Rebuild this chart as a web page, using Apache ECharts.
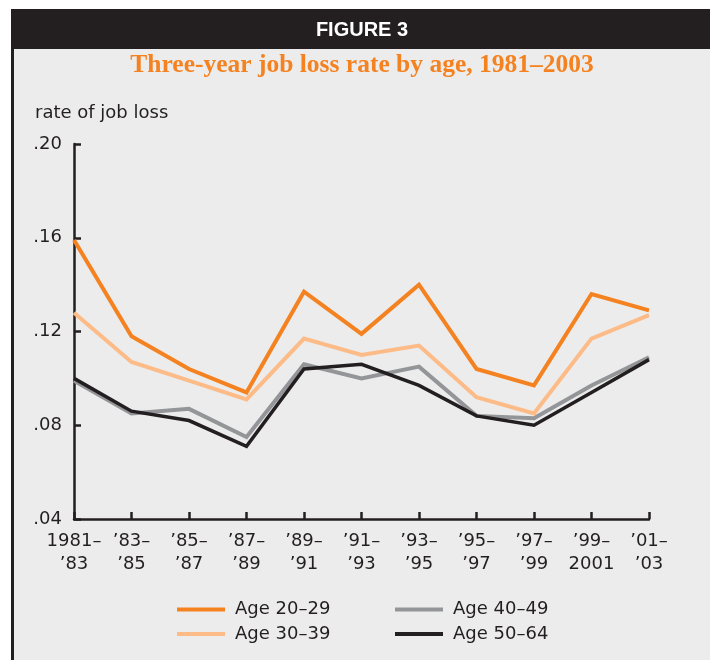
<!DOCTYPE html>
<html>
<head>
<meta charset="utf-8">
<script src="https://cdn.jsdelivr.net/npm/echarts@6/dist/echarts.min.js"></script>
<style>
html,body{margin:0;padding:0;background:#fff;}
#chart{width:710px;height:660px;}
</style>
</head>
<body>
<div id="chart"></div>
<script>
const categories = ["1981–\n’83","’83–\n’85","’85–\n’87","’87–\n’89","’89–\n’91","’91–\n’93","’93–\n’95","’95–\n’97","’97–\n’99","’99–\n2001","’01–\n’03"];
const age2029 = [0.159,0.118,0.104,0.094,0.137,0.119,0.140,0.104,0.097,0.136,0.129];
const age3039 = [0.128,0.107,0.099,0.091,0.117,0.110,0.114,0.092,0.085,0.117,0.127];
const age4049 = [0.099,0.085,0.087,0.075,0.106,0.100,0.105,0.084,0.083,0.097,0.109];
const age5064 = [0.100,0.086,0.082,0.071,0.104,0.106,0.097,0.084,0.080,0.094,0.108];
const yTicks = [0.04,0.08,0.12,0.16,0.20];
const seriesNames = ["Age 20–29","Age 30–39","Age 40–49","Age 50–64"];

const ink = '#231f20';
const font = '"DejaVu Sans", "Liberation Sans", Arial, sans-serif';
const chart = echarts.init(document.getElementById('chart'), null, {renderer:'canvas'});

function mk(name, data, color, width, z){
  return {name, type:'line', data, symbol:'none', z,
    lineStyle:{color, width, join:'miter', cap:'butt'}, itemStyle:{color},
    emphasis:{disabled:true}, animation:false};
}
const legendText = {color:ink, fontSize:18, fontFamily:font, lineHeight:20, padding:[0,0,0,5]};

chart.setOption({
  backgroundColor:'#ffffff',
  animation:false,
  graphic:[
    {type:'rect', z:-10, shape:{x:11,y:9,width:699,height:651}, style:{fill:'#ececec'}},
    {type:'rect', z:-9, shape:{x:11,y:9,width:3,height:651}, style:{fill:ink}},
    {type:'rect', z:-9, shape:{x:11,y:9,width:699,height:40}, style:{fill:ink}},
    {type:'text', x:362, y:30, style:{text:'FIGURE 3', fill:'#ffffff', font:'900 20px "Liberation Sans", Arial, sans-serif', textAlign:'center', textVerticalAlign:'middle'}},
    {type:'text', x:362, y:65, style:{text:'Three-year job loss rate by age, 1981–2003', fill:'#f58220', font:'bold 25.5px "Liberation Serif", "Times New Roman", serif', textAlign:'center', textVerticalAlign:'middle'}},
    {type:'text', x:35, y:113, style:{text:'rate of job loss', fill:ink, font:'18px '+font, textAlign:'left', textVerticalAlign:'middle'}}
  ],
  grid:{left:74, right:61, top:144, bottom:141, containLabel:false},
  legend:[
    {data:[seriesNames[0],seriesNames[1]], orient:'vertical', left:172, top:594.5, itemWidth:48, itemHeight:4, itemGap:4.6, icon:'rect',
     textStyle:legendText, selectedMode:false},
    {data:[seriesNames[2],seriesNames[3]], orient:'vertical', left:390, top:594.5, itemWidth:48, itemHeight:4, itemGap:4.6, icon:'rect',
     textStyle:legendText, selectedMode:false}
  ],
  xAxis:{type:'category', data:categories, boundaryGap:false,
    axisLine:{lineStyle:{color:ink, width:2.5}},
    axisTick:{inside:true, length:7, lineStyle:{color:ink, width:2.5}, alignWithLabel:true},
    axisLabel:{color:ink, fontSize:18, fontFamily:font, lineHeight:23, margin:11, interval:0},
    splitLine:{show:false}},
  yAxis:{type:'value', min:yTicks[0], max:yTicks[yTicks.length-1], interval:0.04,
    axisLine:{show:true, lineStyle:{color:ink, width:2.5}},
    axisTick:{show:true, inside:true, length:7, lineStyle:{color:ink, width:2.5}},
    axisLabel:{color:ink, fontSize:18, fontFamily:font, margin:12, formatter:v=>v.toFixed(2).replace(/^0/,'')},
    splitLine:{show:false}},
  series:[
    mk(seriesNames[0], age2029, '#f58220', 4, 5),
    mk(seriesNames[1], age3039, '#fdbb87', 4, 4),
    mk(seriesNames[2], age4049, '#939598', 4, 2),
    mk(seriesNames[3], age5064, ink, 3.5, 3)
  ]
});
</script>
</body>
</html>
